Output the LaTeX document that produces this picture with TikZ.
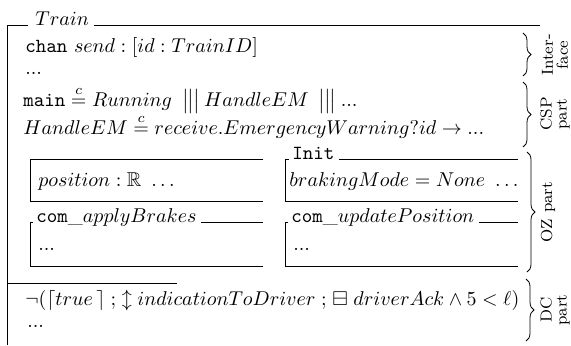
\documentclass[tikz,border=0pt]{standalone}
\usepackage{amsmath, mathtools}
\usepackage{amsfonts}
\usepackage{amssymb}
\usetikzlibrary{decorations.pathreplacing}

\newcommand{\cdef}{\mathrel{\stackrel{c}{=}}}
\newcommand{\interl}{\mathbin{\big|\mkern-1mu\big|\mkern-1mu\big|}}
\newcommand{\chop}{\mathrel{\mathbf{;}}}

\begin{document}
\begin{tikzpicture}[x=0.5pt,y=0.5pt]
\tikzstyle{every node}+=[inner sep=0pt]
\tikzset{
  textline/.style={anchor=base west},
  partbrace/.style={decorate, decoration={brace, amplitude=4pt}},
  partlabel/.style={rotate=90, align=center, font=\footnotesize, anchor=center}
}
\useasboundingbox (0,0) rectangle (571,-345);
% outer schema Train
\node [textline] (train) at (35,-25) {$Train$};
\draw [black] (7,-345) -- (7,-25) -- ([xshift=-3.5pt]train.base west);
\draw [black] ([xshift=2.2pt]train.base east) -- (540,-25);
% interface
\node [textline] (chan) at (25,-52) {$\mathtt{chan}\ send : [id : TrainID]$};
\node [textline] (ifdots) at (25,-74) {$...$};
% CSP part
\node [textline] (main) at (23,-106) {$\mathtt{main} \cdef Running\; \interl HandleEM\; \interl ...$};
\node [textline] (handle) at (23,-134) {$HandleEM \cdef receive.EmergencyWarning?id \rightarrow ...$};
% OZ part: state
\node [textline] (state) at (38,-186) {$position : \mathbb{R}\ \ldots$};
\draw [black] (263,-159) -- (30,-159) -- (30,-201) -- (263,-201);
% OZ part: Init
\node [textline] (init) at (292,-159) {$\mathtt{Init}$};
\draw [black] ([xshift=-1.5pt]init.base west) -- (285,-159) -- (285,-201) -- (518,-201);
\draw [black] ([xshift=2pt]init.base east) -- (518,-159);
\node [textline] (initpred) at (289,-186) {$brakingMode = None\ \ldots$};
% OZ part: operations
\node [textline] (apply) at (36,-222) {$\mathtt{com\_}applyBrakes$};
\draw [black] ([xshift=-1.5pt]apply.base west) -- (30,-222) -- (30,-266) -- (263,-266);
\draw [black] ([xshift=2pt]apply.base east) -- (263,-222);
\node [textline] (applydots) at (38,-250) {$...$};
\node [textline] (update) at (291,-222) {$\mathtt{com\_}updatePosition$};
\draw [black] ([xshift=-1.5pt]update.base west) -- (285,-222) -- (285,-266) -- (518,-266);
\draw [black] ([xshift=2pt]update.base east) -- (518,-222);
\node [textline] (updatedots) at (293,-250) {$...$};
% DC part
\draw [black] (7,-283) -- (177,-283);
\node [textline] (dc) at (25,-305) {$\neg(\lceil true\, \rceil \chop {\updownarrow}\; indicationToDriver \chop {\boxminus}\; driverAck \land 5 < \ell)$};
\node [textline] (dcdots) at (27,-327) {$...$};
% braces
\draw [partbrace] (523,-33) -- (523,-76);
\node [partlabel] (iflabel) at (555,-55) {Inter-\\[-2pt]face};
\draw [partbrace] (523,-82) -- (523,-147);
\node [partlabel] (csplabel) at (555,-114) {CSP\\[-2pt]part};
\draw [partbrace] (527,-152) -- (527,-272);
\node [partlabel] (ozlabel) at (548,-212) {OZ part};
\draw [partbrace] (526,-279) -- (526,-341);
\node [partlabel] (dclabel) at (555,-310) {DC\\[-2pt]part};
\end{tikzpicture}
\end{document}
